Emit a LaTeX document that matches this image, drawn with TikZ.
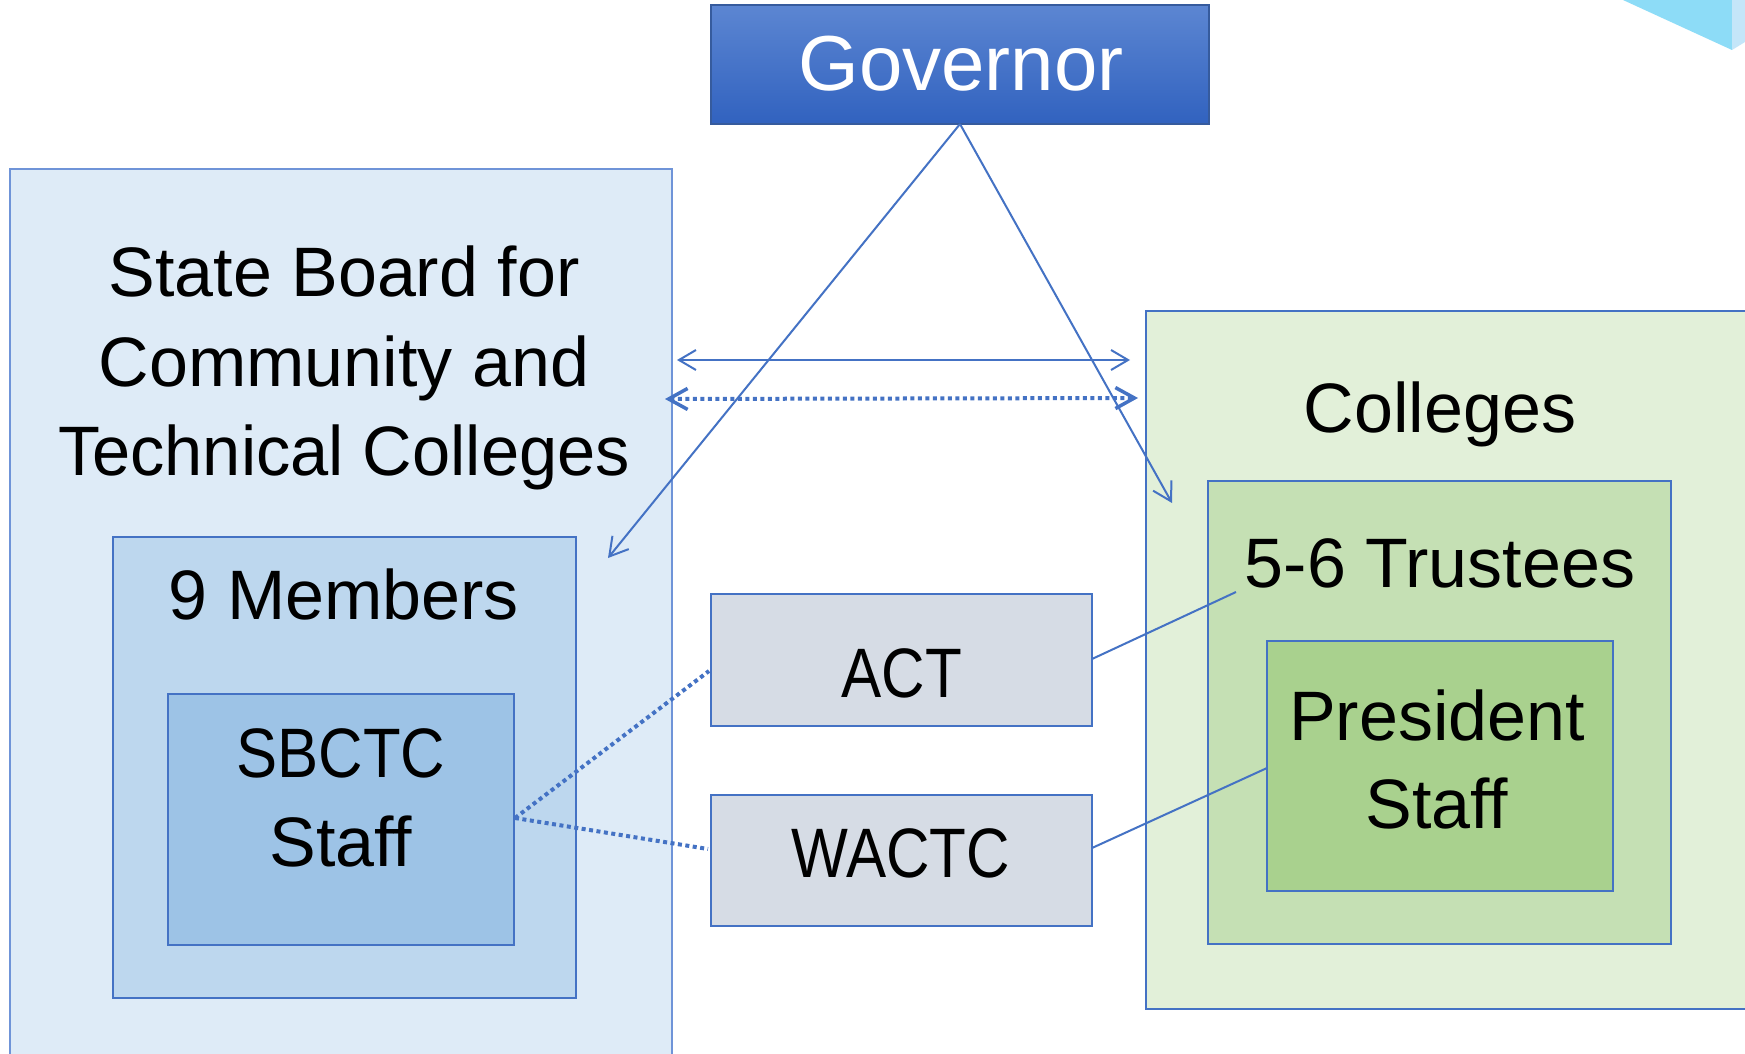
\documentclass[tikz,border=0pt]{standalone}
\usepackage{fontspec}
\setmainfont{Liberation Sans}
\usepackage{graphicx}
\usetikzlibrary{arrows.meta}
\definecolor{edge}{HTML}{4472C4}
\definecolor{outeredge}{HTML}{6F94D8}
\definecolor{sbfill}{HTML}{DEEBF7}
\definecolor{memfill}{HTML}{BDD7EE}
\definecolor{stafffill}{HTML}{9DC3E6}
\definecolor{grayfill}{HTML}{D6DCE5}
\definecolor{colfill}{HTML}{E2F0D9}
\definecolor{trufill}{HTML}{C5E0B4}
\definecolor{presfill}{HTML}{A9D18E}
\definecolor{govtop}{HTML}{5C86D2}
\definecolor{govbot}{HTML}{3162BF}
\definecolor{tri}{HTML}{8DDCF7}
\definecolor{trilight}{HTML}{C4E6F9}
\begin{document}
\begin{tikzpicture}[x=1pt,y=-1pt,
  box/.style 2 args={draw=edge, line width=1.3pt, inner sep=0pt, outer sep=0pt,
    anchor=north west, minimum width=#1pt, minimum height=#2pt},
  txt/.style={inner sep=0pt, anchor=base, font=\fontsize{70}{84}\selectfont},
  conn/.style={draw=edge, line width=2pt},
  dots/.style={draw=edge, line width=4pt, dash pattern=on 4pt off 3.5pt},
]
\useasboundingbox (0,0) rectangle (1745,1054);
\clip (0,0) rectangle (1745,1054);
\fill[white] (0,0) rectangle (1745,1054);

% top-right decoration
\fill[tri] (1623,0) -- (1732,0) -- (1732,50) -- cycle;
\fill[trilight] (1732,0) -- (1745,0) -- (1745,42) -- (1732,50) -- cycle;

% left group
\node[box={662}{900}, draw=outeredge, fill=sbfill] (sb) at (10,169) {};
\node[box={463}{461}, fill=memfill] (mem) at (113,537) {};
\node[box={346}{251}, fill=stafffill] (sbctc) at (168,694) {};

% right group
\node[box={620}{698}, fill=colfill] (col) at (1146,311) {};
\node[box={463}{463}, fill=trufill] (tru) at (1208,481) {};
\node[box={346}{250}, fill=presfill] (pres) at (1267,641) {};

% middle boxes
\node[box={381}{132}, fill=grayfill] (act) at (711,594) {};
\node[box={381}{131}, fill=grayfill] (wactc) at (711,795) {};

% governor
\node[box={498}{119}, draw=edge!80!black, top color=govtop, bottom color=govbot] (gov) at (711,5) {};

% coordinates for free ends
\coordinate (gm) at (608,558);
\coordinate (gc) at (1172,503);
\coordinate (sa) at (677,360);
\coordinate (sb2) at (1130,360);
\coordinate (da) at (665,399);
\coordinate (db) at (1138,398);
\coordinate (actw) at (709,671);
\coordinate (wactcw) at (708,849);
\coordinate (trut) at (1236,592);
\coordinate (actE) at (1092,659);
\coordinate (wactcE) at (1092,848);
\coordinate (presw) at (1267,768);
\coordinate (sbctcE) at (515,818);

% connectors
\draw[conn, -{Straight Barb[length=18pt,width=21pt]}] (gov.south) -- (gm);
\draw[conn, -{Straight Barb[length=18pt,width=21pt]}] (gov.south) -- (gc);
\draw[conn, {Straight Barb[length=17pt,width=20pt]}-{Straight Barb[length=17pt,width=20pt]}] (sa) -- (sb2);
\draw[dots, {Straight Barb[length=19pt,width=21pt,line width=3.5pt]}-{Straight Barb[length=19pt,width=21pt,line width=3.5pt]}] (da) -- (db);
\draw[dots] (sbctcE) -- (actw);
\draw[dots] (sbctcE) -- (wactcw);
\draw[conn] (actE) -- (trut);
\draw[conn] (wactcE) -- (presw);

% texts
\node[txt, font=\fontsize{78}{90}\selectfont, text=white] (govt) at (961,91) {Governor};
\node[txt] (sbt1) at (344,296) {State Board for};
\node[txt] (sbt2) at (344,386) {Community and};
\node[txt] (sbt3) at (344,475) {\scalebox{0.98}[1]{Technical Colleges}};
\node[txt] (memt) at (344,619) {9 Members};
\node[txt] (sbctct1) at (341,777) {\scalebox{0.88}[1]{SBCTC}};
\node[txt] (sbctct2) at (341,866) {Staff};
\node[txt] (actt) at (902,697) {\scalebox{0.86}[1]{ACT}};
\node[txt] (wactct) at (901,877) {\scalebox{0.86}[1]{WACTC}};
\node[txt] (colt) at (1440,432) {Colleges};
\node[txt] (trut1) at (1440,587) {5-6 Trustees};
\node[txt] (prest1) at (1437,740) {President};
\node[txt] (prest2) at (1437,828) {Staff};
\end{tikzpicture}
\end{document}
